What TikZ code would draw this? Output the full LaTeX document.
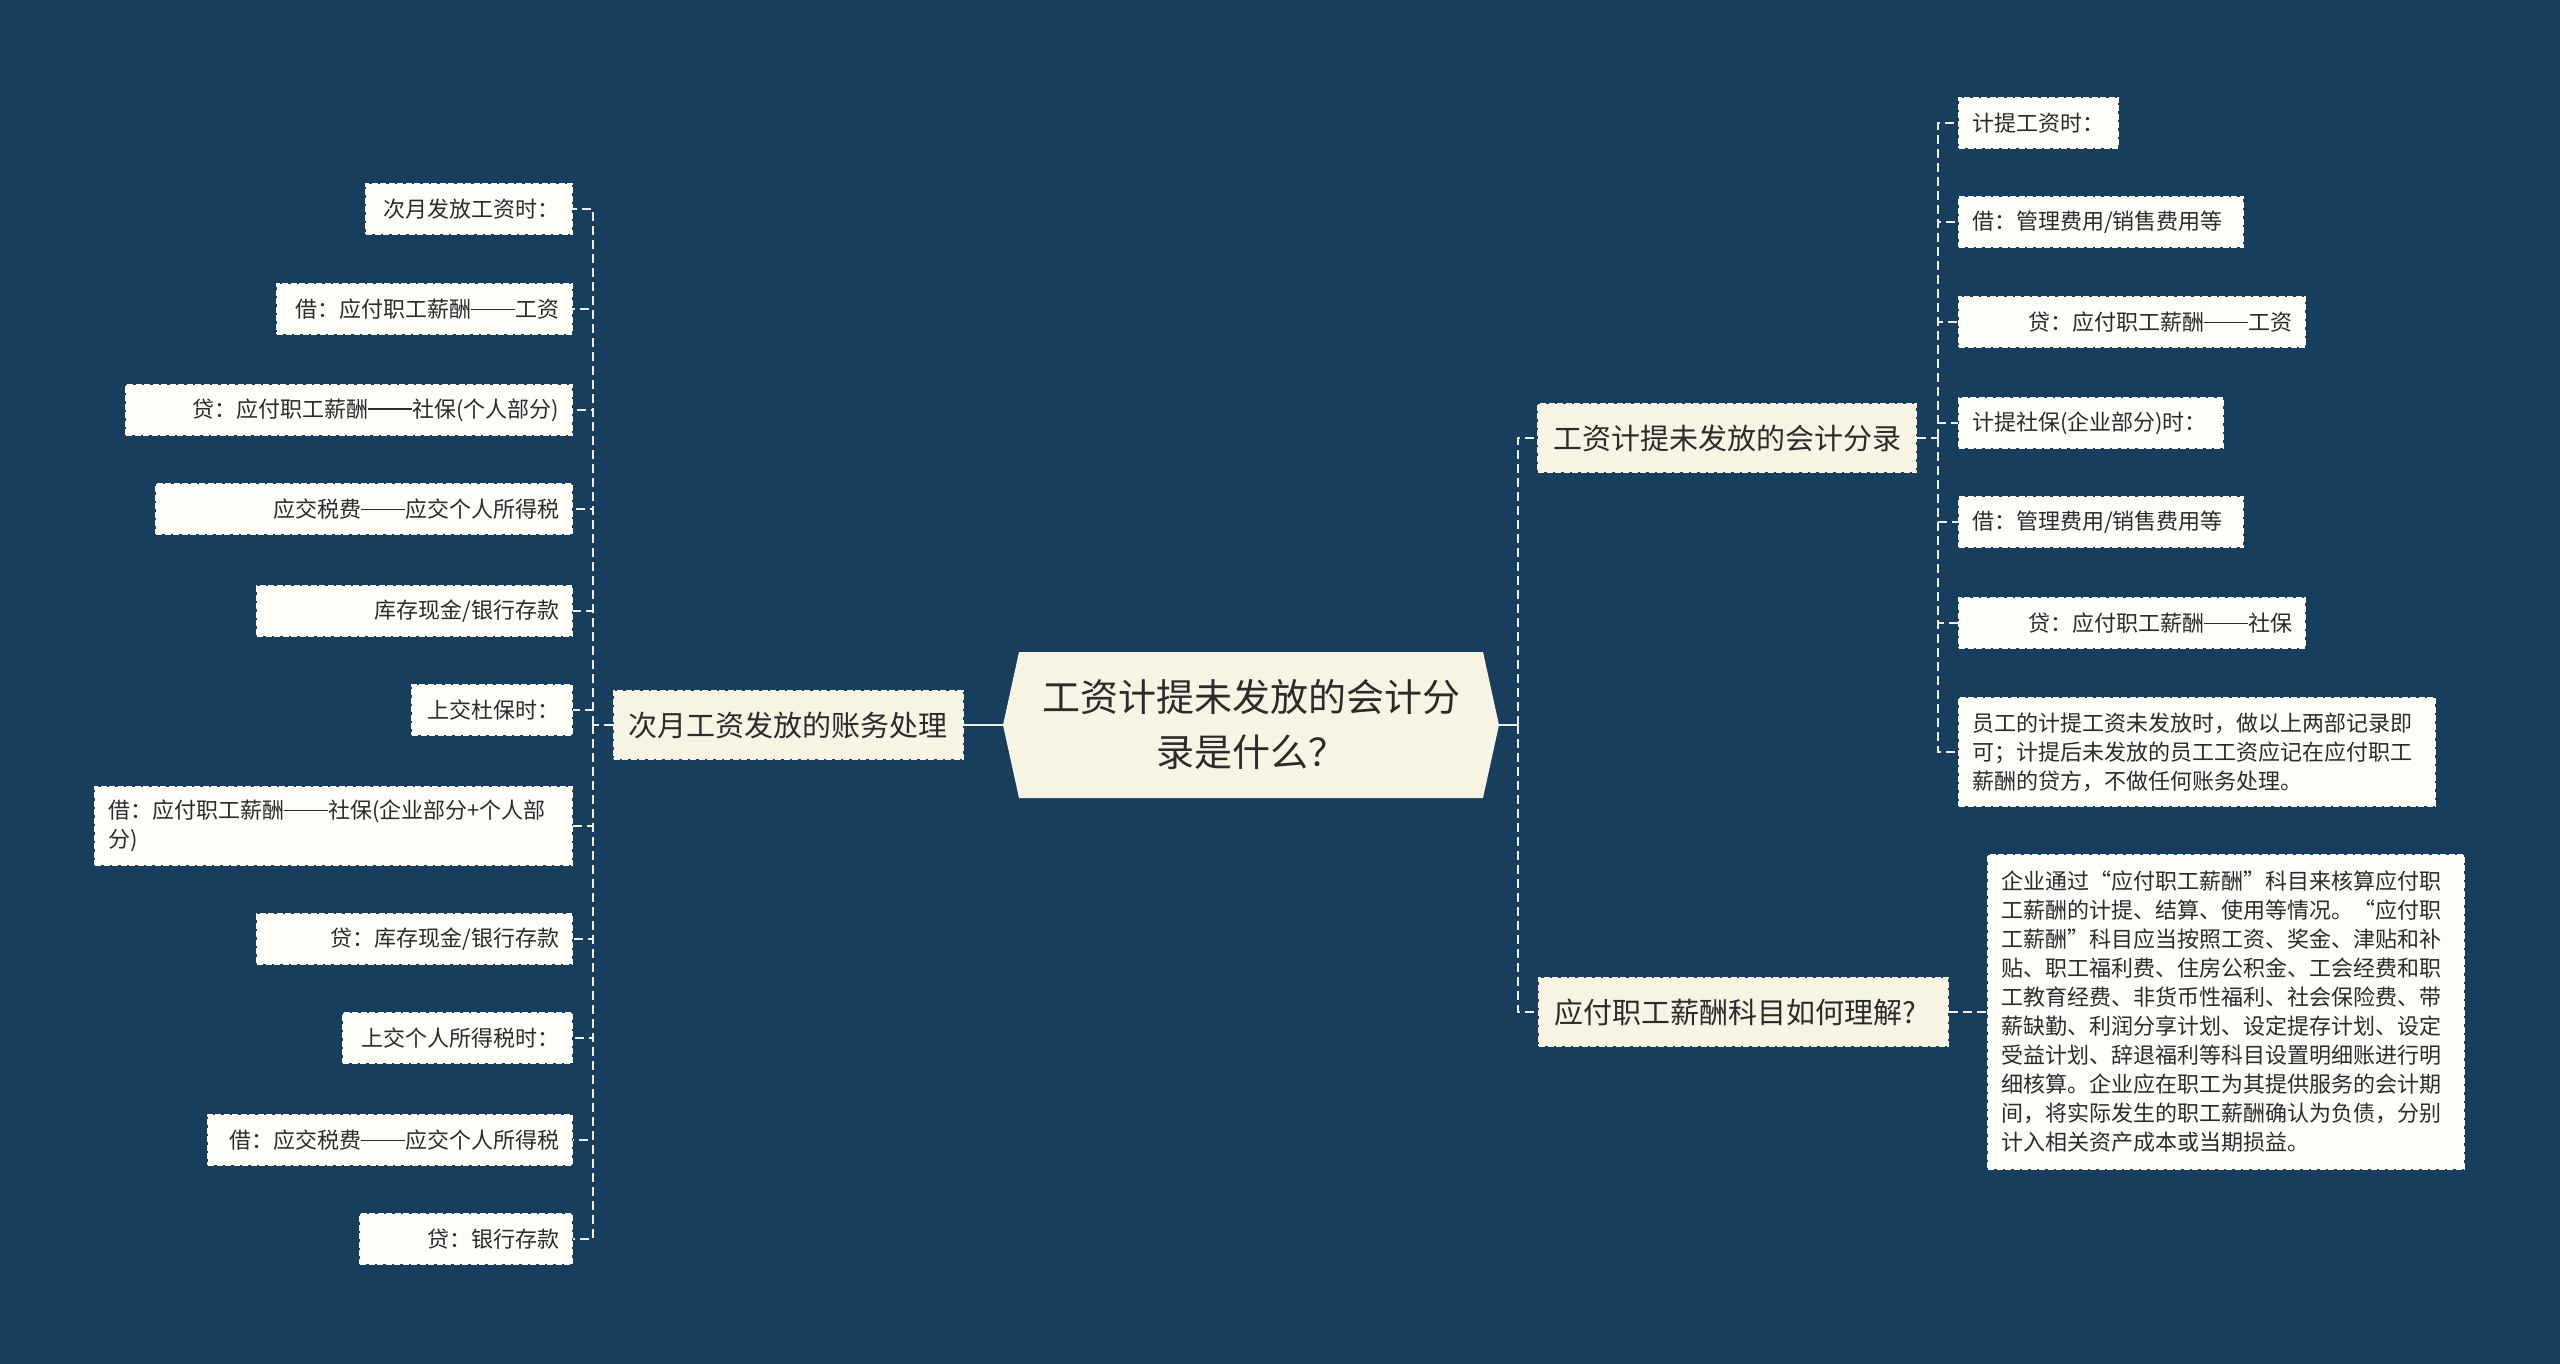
\documentclass[tikz,border=0pt]{standalone}
\usepackage{fontspec}
\setmainfont{Noto Sans CJK SC}
\usetikzlibrary{calc}

\definecolor{bgnavy}{HTML}{183E5D}
\definecolor{creamfill}{HTML}{F8F4E3}
\definecolor{leaffill}{HTML}{FEFDF8}
\definecolor{inkgray}{HTML}{2B2B2B}
\definecolor{linkwhite}{HTML}{EEEDE6}

\newcommand\longdash{\rule[0.34em]{2em}{0.06em}}

\begin{document}
\begin{tikzpicture}[
  x=1pt,y=-1pt,
  link/.style={draw=linkwhite,line width=2pt,dash pattern=on 9pt off 5pt},
  trunk/.style={draw=linkwhite,line width=2pt},
  boxedge/.style={dash pattern=on 6pt off 2.5pt,line width=2pt},
  rootshape/.style={text=inkgray,font=\fontsize{38}{55}\selectfont,align=center,
    minimum width=496pt,minimum height=146pt,inner sep=0pt,
    path picture={\fill[creamfill] (path picture bounding box.west)
      -- ([xshift=16pt]path picture bounding box.north west)
      -- ([xshift=-16pt]path picture bounding box.north east)
      -- (path picture bounding box.east)
      -- ([xshift=-16pt]path picture bounding box.south east)
      -- ([xshift=16pt]path picture bounding box.south west) -- cycle;}},
  branch/.style={boxedge,draw=creamfill,fill=creamfill,text=inkgray,
    font=\fontsize{29}{36}\selectfont,inner xsep=15pt,inner ysep=0pt,minimum height=68pt},
  leaf/.style={boxedge,draw=leaffill,fill=leaffill,text=inkgray,
    font=\fontsize{22}{29}\selectfont,inner xsep=13pt,inner ysep=13pt,minimum height=50pt},
  leafL/.style={leaf,anchor=east,align=right},
  leafR/.style={leaf,anchor=west,align=left}
]
  \fill[bgnavy] (0,0) rectangle (2560,1364);
  \useasboundingbox (0,0) rectangle (2560,1364);

  \node[rootshape] (root) at (1251,725) {工资计提未发放的会计分\\录是什么？};

  \node[branch] (lmid) at (788,725) {次月工资发放的账务处理};
  \node[branch] (rmid1) at (1727,438) {工资计提未发放的会计分录};
  \node[branch,anchor=west,text width=379pt,align=left] (rmid2) at (1538,1012) {应付职工薪酬科目如何理解?};

  \node[leafL,text width=180pt] (l1) at (573,209) {次月发放工资时：};
  \node[leafL,text width=269pt] (l2) at (573,309) {借：应付职工薪酬\longdash 工资};
  \node[leafL,text width=420pt] (l3) at (573,410) {贷：应付职工薪酬\longdash 社保(个人部分)};
  \node[leafL,text width=390pt] (l4) at (573,509) {应交税费\longdash 应交个人所得税};
  \node[leafL,text width=289pt] (l5) at (573,611) {库存现金/银行存款};
  \node[leafL,text width=134pt] (l6) at (573,710) {上交杜保时：};
  \node[leafL,text width=451pt,align=left] (l7) at (573,826) {借：应付职工薪酬\longdash 社保(企业部分+个人部\\分)};
  \node[leafL,text width=289pt] (l8) at (573,939) {贷：库存现金/银行存款};
  \node[leafL,text width=203pt] (l9) at (573,1038) {上交个人所得税时：};
  \node[leafL,text width=338pt] (l10) at (573,1140) {借：应交税费\longdash 应交个人所得税};
  \node[leafL,text width=186pt] (l11) at (573,1239) {贷：银行存款};

  \node[leafR,text width=133pt] (r1) at (1958,123) {计提工资时：};
  \node[leafR,text width=258pt] (r2) at (1958,222) {借：管理费用/销售费用等};
  \node[leafR,text width=320pt,align=right] (r3) at (1958,322) {贷：应付职工薪酬\longdash 工资};
  \node[leafR,text width=238pt] (r4) at (1958,423) {计提社保(企业部分)时：};
  \node[leafR,text width=258pt] (r5) at (1958,522) {借：管理费用/销售费用等};
  \node[leafR,text width=320pt,align=right] (r6) at (1958,623) {贷：应付职工薪酬\longdash 社保};
  \node[leafR,text width=450pt,inner ysep=15pt] (r7) at (1958,752) {员工的计提工资未发放时，做以上两部记录即\\可；计提后未发放的员工工资应记在应付职工\\薪酬的贷方，不做任何账务处理。};

  \node[leafR,text width=450pt,inner ysep=16pt] (note) at (1987,1012) {企业通过“应付职工薪酬”科目来核算应付职\\工薪酬的计提、结算、使用等情况。“应付职\\工薪酬”科目应当按照工资、奖金、津贴和补\\贴、职工福利费、住房公积金、工会经费和职\\工教育经费、非货币性福利、社会保险费、带\\薪缺勤、利润分享计划、设定提存计划、设定\\受益计划、辞退福利等科目设置明细账进行明\\细核算。企业应在职工为其提供服务的会计期\\间，将实际发生的职工薪酬确认为负债，分别\\计入相关资产成本或当期损益。};

  \coordinate (ljoin) at (593,725);
  \coordinate (rjoin) at (1518,725);
  \coordinate (rjoin1) at (1938,438);

  \draw[trunk] (root.west) -- (lmid.east);
  \draw[trunk] (root.east) -- (rjoin);
  \draw[link] (rjoin) |- (rmid1.west);
  \draw[link] (rjoin) |- (rmid2.west);
  \draw[link] (lmid.west) -- (ljoin);
  \foreach \n in {1,...,11} \draw[link] (ljoin) |- (l\n.east);
  \draw[link] (rmid1.east) -- (rjoin1);
  \foreach \n in {1,...,7} \draw[link] (rjoin1) |- (r\n.west);
  \draw[link] (rmid2.east) -- (note.west);
\end{tikzpicture}
\end{document}
